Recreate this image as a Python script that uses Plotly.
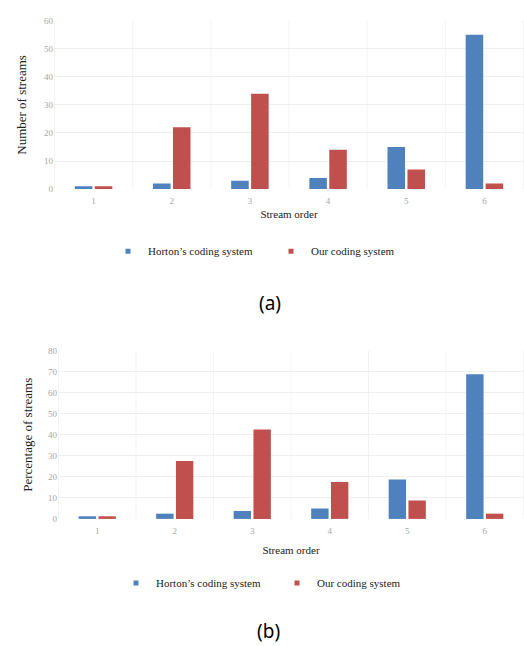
import plotly.graph_objects as go

categories = ["1", "2", "3", "4", "5", "6"]
horton_counts = [1, 2, 3, 4, 15, 55]
our_counts = [1, 22, 34, 14, 7, 2]
horton_pct = [1.25, 2.5, 3.75, 5, 18.75, 68.75]
our_pct = [1.25, 27.5, 42.5, 17.5, 8.75, 2.5]
y_ticks_a = [0, 10, 20, 30, 40, 50, 60]
y_ticks_b = [0, 10, 20, 30, 40, 50, 60, 70, 80]
series_names = ["Horton\u2019s coding system", "Our coding system"]

BLUE = "#4F81BD"
RED = "#C0504D"
W, H = 524, 646
SERIF = "Liberation Serif"
TICK_COLOR = "#a6a6a6"
GRID = "#efefef"

def py(p):
    return 1 - p / H

fig = go.Figure()

# Chart (a)
fig.add_trace(go.Bar(x=categories, y=horton_counts, marker_color=BLUE, showlegend=False,
                     xaxis="x", yaxis="y", marker_line_width=0))
fig.add_trace(go.Bar(x=categories, y=our_counts, marker_color=RED, showlegend=False,
                     xaxis="x", yaxis="y", marker_line_width=0))
# Chart (b)
fig.add_trace(go.Bar(x=categories, y=horton_pct, marker_color=BLUE, showlegend=False,
                     xaxis="x2", yaxis="y2", marker_line_width=0))
fig.add_trace(go.Bar(x=categories, y=our_pct, marker_color=RED, showlegend=False,
                     xaxis="x2", yaxis="y2", marker_line_width=0))

# Legend entries
for leg, xa, ya in [("legend", "x", "y"), ("legend2", "x2", "y2")]:
    for name, col in zip(series_names, [BLUE, RED]):
        fig.add_trace(go.Scatter(x=[None], y=[None], mode="markers", name=name,
                                 marker=dict(symbol="square", size=5, color=col),
                                 legend=leg, xaxis=xa, yaxis=ya))

axis_common = dict(showline=False, zeroline=False, fixedrange=True)

fig.update_layout(
    width=W, height=H,
    margin=dict(l=0, r=0, t=0, b=0),
    paper_bgcolor="white", plot_bgcolor="white",
    barmode="group", bargap=0.49, bargroupgap=0.12,
    font=dict(family=SERIF, color="black"),
    xaxis=dict(domain=[54 / W, 1], anchor="y", type="category",
               ticks="outside", ticklen=3, tickcolor="rgba(0,0,0,0)",
               tickfont=dict(size=9, color=TICK_COLOR), showgrid=False,
               title=dict(text="Stream order", font=dict(size=11, color="#222"), standoff=5),
               **axis_common),
    yaxis=dict(domain=[py(187), py(16)], anchor="x", range=[0, 60], tickvals=y_ticks_a,
               ticks="", tickfont=dict(size=9, color=TICK_COLOR), gridcolor=GRID, gridwidth=1,
               title=dict(text="Number of streams", font=dict(size=13, color="#222"), standoff=14),
               **axis_common),
    xaxis2=dict(domain=[58 / W, 1], anchor="y2", type="category",
                ticks="outside", ticklen=3, tickcolor="rgba(0,0,0,0)",
                tickfont=dict(size=9, color=TICK_COLOR), showgrid=False,
                title=dict(text="Stream order", font=dict(size=11, color="#222"), standoff=11),
                **axis_common),
    yaxis2=dict(domain=[py(522), py(351)], anchor="x2", range=[0, 80], tickvals=y_ticks_b,
                ticks="", tickfont=dict(size=9, color=TICK_COLOR), gridcolor=GRID, gridwidth=1,
                title=dict(text="Percentage of streams", font=dict(size=13, color="#222"), standoff=12),
                **axis_common),
    legend=dict(orientation="h", x=108 / W, y=py(250), xanchor="left", yanchor="middle",
                font=dict(size=11, color="#222"), itemwidth=30, entrywidth=118,
                entrywidthmode="pixels", bgcolor="rgba(0,0,0,0)"),
    legend2=dict(orientation="h", x=116 / W, y=py(587), xanchor="left", yanchor="middle",
                 font=dict(size=11, color="#222"), itemwidth=30, entrywidth=116,
                 entrywidthmode="pixels", bgcolor="rgba(0,0,0,0)"),
    annotations=[
        dict(text="(a)", x=270 / W, y=py(303), xref="paper", yref="paper", showarrow=False,
             font=dict(family="Noto Sans", size=19, color="black"), xanchor="center", yanchor="middle"),
        dict(text="(b)", x=268 / W, y=py(636), xref="paper", yref="paper", showarrow=False,
             font=dict(family="Noto Sans", size=19, color="black"), xanchor="center", yanchor="middle"),
    ],
)

# light vertical separators between categories
shapes = []
for xa, ya in [("x", "y"), ("x2", "y2")]:
    for i in range(7):
        shapes.append(dict(type="line", xref=xa, yref=f"{ya} domain", x0=i - 0.5, x1=i - 0.5,
                           y0=0, y1=1, line=dict(color="#f3f3f3", width=1), layer="below"))
fig.update_layout(shapes=shapes)

fig.write_html("out.html", config={"displayModeBar": False},
               post_script="document.body.style.margin='0';document.body.style.overflow='hidden';")
